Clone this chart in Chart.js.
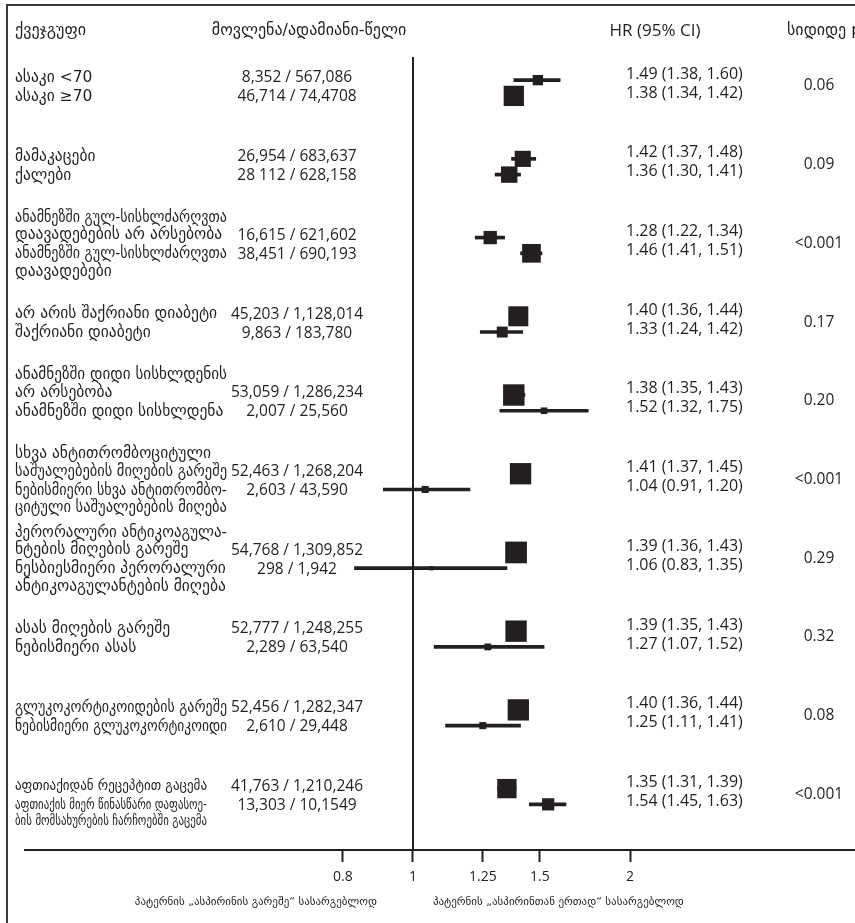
<!DOCTYPE html>
<html>
<head>
<meta charset="utf-8">
<script src="https://cdn.jsdelivr.net/npm/chart.js@4.4.1/dist/chart.umd.min.js"></script>
<style>
  html, body { margin: 0; padding: 0; background: #fff; }
  #wrap { width: 855px; height: 923px; position: relative; }
</style>
</head>
<body>
<div id="wrap"><canvas id="forest"></canvas></div>
<script>
// one list of text lines per subgroup pair
var groupLabels = [
  ['ასაკი <70', 'ასაკი ≥70'],
  ['მამაკაცები', 'ქალები'],
  ['ანამნეზში გულ-სისხლძარღვთა', 'დაავადებების არ არსებობა', 'ანამნეზში გულ-სისხლძარღვთა', 'დაავადებები'],
  ['არ არის შაქრიანი დიაბეტი', 'შაქრიანი დიაბეტი'],
  ['ანამნეზში დიდი სისხლდენის', 'არ არსებობა', 'ანამნეზში დიდი სისხლდენა'],
  ['სხვა ანტითრომბოციტული', 'საშუალებების მიღების გარეშე', 'ნებისმიერი სხვა ანტითრომბო-', 'ციტული საშუალებების მიღება'],
  ['პერორალური ანტიკოაგულა-', 'ნტების მიღების გარეშე', 'ნესბიესმიერი პერორალური', 'ანტიკოაგულანტების მიღება'],
  ['ასას მიღების გარეშე', 'ნებისმიერი ასას'],
  ['გლუკოკორტიკოიდების გარეშე', 'ნებისმიერი გლუკოკორტიკოიდი'],
  ['აფთიაქიდან რეცეპტით გაცემა', 'აფთიაქის მიერ წინასწარი დაფასოე-', 'ბის მომსახურების ჩარჩოებში გაცემა']
];
// which label line sits next to the first row of the pair
var firstRowLine = [0, 0, 1, 0, 1, 1, 1, 0, 0, 0];

// events / person-years, as printed
var eventsText = [
  '8,352 / 567,086', '46,714 / 74,4708',
  '26,954 / 683,637', '28 112 / 628,158',
  '16,615 / 621,602', '38,451 / 690,193',
  '45,203 / 1,128,014', '9,863 / 183,780',
  '53,059 / 1,286,234', '2,007 / 25,560',
  '52,463 / 1,268,204', '2,603 / 43,590',
  '54,768 / 1,309,852', '298 / 1,942',
  '52,777 / 1,248,255', '2,289 / 63,540',
  '52,456 / 1,282,347', '2,610 / 29,448',
  '41,763 / 1,210,246', '13,303 / 10,1549'
];
var hr     = [1.49, 1.38, 1.42, 1.36, 1.28, 1.46, 1.40, 1.33, 1.38, 1.52, 1.41, 1.04, 1.39, 1.06, 1.39, 1.27, 1.40, 1.25, 1.35, 1.54];
var ciLow  = [1.38, 1.34, 1.37, 1.30, 1.22, 1.41, 1.36, 1.24, 1.35, 1.32, 1.37, 0.91, 1.36, 0.83, 1.35, 1.07, 1.36, 1.11, 1.31, 1.45];
var ciHigh = [1.60, 1.42, 1.48, 1.41, 1.34, 1.51, 1.44, 1.42, 1.43, 1.75, 1.45, 1.20, 1.43, 1.35, 1.43, 1.52, 1.44, 1.41, 1.39, 1.63];
var pValues = ['0.06', '0.09', '<0.001', '0.17', '0.20', '<0.001', '0.29', '0.32', '0.08', '<0.001'];
var tickValues = [0.8, 1, 1.25, 1.5, 2];
var xMin = 0.29, xMax = 4.1;

var headers = ['ქვეჯგუფი', 'მოვლენა/ადამიანი-წელი', 'HR (95% CI)', 'სიდიდე p'];
var favourLeft = 'პატერნის „ასპირინის გარეშე“ სასარგებლოდ';
var favourRight = 'პატერნის „ასპირინთან ერთად“ სასარგებლოდ';

var ink = '#231f20';
var geoFont = '"DejaVu Sans", sans-serif';
var numFont = '"Open Sans", sans-serif';

// row r belongs to pair floor(r/2); first row sits a little above the pair centre, second below
function rowPos(r) { return Math.floor(r / 2) + (r % 2 ? 0.1 : -0.1); }
function eventCount(s) { return parseInt(s.split('/')[0].replace(/[ ,]/g, ''), 10); }

var squares = hr.map(function (v, i) { return { x: v, y: rowPos(i) }; });
var ciBars = hr.map(function (v, i) { return { x: [ciLow[i], ciHigh[i]], y: rowPos(i) }; });
var squareRadius = eventsText.map(function (s) {
  var side = 3 + 0.08 * Math.sqrt(eventCount(s));
  return side / Math.SQRT2;
});

var forestText = {
  id: 'forestText',
  beforeDraw: function (chart) {
    var ctx = chart.ctx;
    ctx.save();
    ctx.strokeStyle = '#3a3a3a';
    ctx.lineWidth = 2;
    ctx.beginPath();
    ctx.moveTo(7, chart.height);
    ctx.lineTo(7, 5);
    ctx.lineTo(chart.width, 5);
    ctx.stroke();
    ctx.restore();
  },
  beforeDatasetsDraw: function (chart) {
    var ctx = chart.ctx, xs = chart.scales.x, area = chart.chartArea;
    var x1 = Math.round(xs.getPixelForValue(1));
    ctx.save();
    ctx.strokeStyle = ink;
    ctx.lineWidth = 2;
    ctx.beginPath();
    ctx.moveTo(x1, area.top);
    ctx.lineTo(x1, area.bottom);
    ctx.stroke();
    ctx.restore();
  },
  afterDraw: function (chart) {
    var ctx = chart.ctx, xs = chart.scales.x, ys = chart.scales.y, area = chart.chartArea;
    ctx.save();
    ctx.fillStyle = ink;
    ctx.textBaseline = 'middle';

    // column headers
    var hy = area.top - 26;
    ctx.font = '16px ' + geoFont;
    ctx.textAlign = 'left';
    ctx.fillText(headers[0], 15, hy);
    ctx.textAlign = 'center';
    ctx.fillText(headers[1], 309, hy);
    ctx.font = '17px ' + numFont;
    ctx.fillText(headers[2], 655, hy);
    ctx.font = '16px ' + geoFont;
    ctx.textAlign = 'left';
    ctx.fillText(headers[3], 787, hy);

    groupLabels.forEach(function (lines, g) {
      var cy = ys.getPixelForValue(g);
      var small = g === groupLabels.length - 1;
      var lh = small ? 16.5 : 17.5;
      var rowA = cy - 10;
      var rowB = cy + 9;
      ctx.textAlign = 'left';
      ctx.font = (small ? '13.5px ' : '15.5px ') + geoFont;
      lines.forEach(function (t, k) {
        var a = firstRowLine[g], y;
        if (k <= a) y = rowA - (a - k) * lh;
        else y = rowB + (k - a - 1) * lh;
        ctx.fillText(t, 15, y, small ? 192 : 212);
      });

      ctx.font = '15.5px ' + numFont;
      ctx.textAlign = 'center';
      ctx.fillText(eventsText[2 * g], 297, rowA);
      ctx.fillText(eventsText[2 * g + 1], 297, rowB);

      ctx.font = '16px ' + numFont;
      ctx.textAlign = 'left';
      [2 * g, 2 * g + 1].forEach(function (r, k) {
        var s = hr[r].toFixed(2) + ' (' + ciLow[r].toFixed(2) + ', ' + ciHigh[r].toFixed(2) + ')';
        ctx.fillText(s, 626, cy - 14 + k * 19);
      });

      ctx.font = '15.5px ' + numFont;
      ctx.textAlign = 'center';
      ctx.fillText(pValues[g], 819, cy - 2);
    });

    // favours captions under the axis
    var x1 = xs.getPixelForValue(1);
    ctx.font = '11px ' + geoFont;
    ctx.textAlign = 'right';
    ctx.fillText(favourLeft, x1 - 36, area.bottom + 52);
    ctx.textAlign = 'left';
    ctx.fillText(favourRight, x1 + 20, area.bottom + 52);
    ctx.restore();
  }
};

new Chart(document.getElementById('forest'), {
  type: 'scatter',
  data: {
    datasets: [
      {
        type: 'scatter',
        label: 'HR',
        data: squares,
        pointStyle: 'rect',
        pointRadius: squareRadius,
        pointHoverRadius: squareRadius,
        pointBackgroundColor: ink,
        pointBorderWidth: 0,
        order: 0
      },
      {
        type: 'bar',
        label: '95% CI',
        indexAxis: 'y',
        data: ciBars,
        backgroundColor: ink,
        borderWidth: 0,
        barThickness: 3,
        order: 1
      }
    ]
  },
  options: {
    responsive: true,
    maintainAspectRatio: false,
    animation: false,
    layout: { autoPadding: false, padding: { top: 57, left: 25, right: 0, bottom: 0 } },
    plugins: { legend: { display: false }, tooltip: { enabled: false } },
    scales: {
      x: {
        type: 'logarithmic',
        position: 'bottom',
        offset: false,
        bounds: 'data',
        min: xMin,
        max: xMax,
        afterBuildTicks: function (scale) {
          scale.ticks = tickValues.map(function (v) { return { value: v }; });
          scale.min = xMin;
          scale.max = xMax;
        },
        afterFit: function (scale) {
          scale.height = 73;
          scale.paddingLeft = 0;
          scale.paddingRight = 0;
        },
        ticks: {
          autoSkip: false,
          maxRotation: 0,
          padding: 7,
          color: ink,
          font: { family: 'Open Sans', size: 14 },
          callback: function (v) { return String(v); }
        },
        grid: {
          offset: false,
          drawOnChartArea: false,
          drawTicks: true,
          tickLength: 12,
          tickWidth: 2,
          tickColor: ink
        },
        border: { display: true, color: ink, width: 2 }
      },
      y: {
        type: 'linear',
        reverse: true,
        offset: false,
        min: -0.394,
        max: 9.68,
        display: false,
        grid: { offset: false }
      }
    }
  },
  plugins: [forestText]
});
</script>
</body>
</html>
